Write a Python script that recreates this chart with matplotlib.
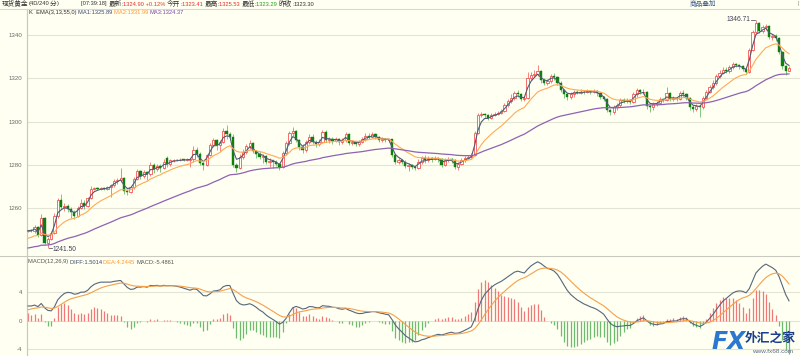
import matplotlib
matplotlib.use("Agg")
import matplotlib.pyplot as plt
import numpy as np

plt.rcParams['font.family'] = ['Noto Sans CJK SC', 'DejaVu Sans']

# ---------------- data (4-hour candles) ----------------
opens = [
    1249.2, 1249.6, 1249.3, 1251.0, 1247.5, 1255.5, 1244.0, 1245.5, 1248.5, 1256.5,
    1263.5, 1260.5, 1261.0, 1259.5, 1258.0, 1256.5, 1260.0, 1262.5, 1261.0, 1264.5,
    1269.0, 1269.2, 1268.8, 1269.3, 1268.9, 1269.5, 1270.5, 1272.5, 1273.0, 1274.0,
    1268.0, 1267.5, 1269.5, 1273.5, 1277.0, 1275.0, 1276.5, 1275.5, 1280.0, 1278.0,
    1279.5, 1278.5, 1283.0, 1280.5, 1282.0, 1282.2, 1282.1, 1282.3, 1282.2, 1282.4,
    1282.6, 1287.0, 1285.0, 1281.0, 1280.0, 1284.5, 1289.0, 1291.5, 1289.0, 1290.5,
    1295.5, 1294.0, 1293.0, 1280.0, 1278.5, 1283.5, 1286.0, 1288.5, 1290.0, 1286.5,
    1285.0, 1283.5, 1284.0, 1281.5, 1281.8, 1281.5, 1280.5, 1279.0, 1285.5, 1290.0,
    1294.5, 1295.5, 1291.5, 1288.0, 1287.0, 1290.5, 1293.0, 1290.5, 1289.5, 1290.5,
    1295.0, 1291.5, 1292.0, 1291.0, 1292.0, 1290.5, 1291.5, 1294.0, 1290.0, 1290.5,
    1289.8, 1290.5, 1292.0, 1293.5, 1293.0, 1294.0, 1293.0, 1291.5, 1292.0, 1291.5,
    1291.8, 1284.5, 1281.5, 1282.0, 1281.5, 1279.5, 1280.0, 1279.0, 1278.5, 1281.5,
    1283.0, 1282.0, 1283.0, 1282.5, 1283.0, 1282.5, 1280.0, 1282.0, 1282.5, 1282.0,
    1279.0, 1280.5, 1282.0, 1283.0, 1283.5, 1284.5, 1294.5, 1303.0, 1303.5, 1303.0,
    1301.5, 1303.0, 1303.5, 1304.0, 1305.0, 1307.5, 1309.5, 1311.0, 1313.0, 1312.5,
    1310.5, 1311.0, 1320.0, 1321.5, 1322.0, 1323.5, 1319.0, 1318.0, 1318.5, 1321.0,
    1320.5, 1318.0, 1314.5, 1312.5, 1311.5, 1312.5, 1313.5, 1313.2, 1313.8, 1313.5,
    1314.0, 1313.5, 1314.0, 1313.0, 1311.5, 1310.5, 1305.5, 1304.5, 1306.5, 1307.5,
    1310.0, 1309.5, 1310.0, 1309.0, 1312.5, 1314.5, 1313.5, 1313.8, 1307.0, 1306.5,
    1308.0, 1308.5, 1310.5, 1310.0, 1313.0, 1310.5, 1311.0, 1310.5, 1313.0, 1312.5,
    1311.0, 1306.5, 1306.0, 1307.0, 1306.5, 1311.0, 1313.5, 1316.0, 1318.0, 1321.0,
    1322.5, 1324.0, 1323.5, 1325.0, 1326.5, 1326.0, 1325.5, 1324.5, 1323.0, 1333.0,
    1341.5, 1345.5, 1342.0, 1343.5, 1344.0, 1339.0, 1339.5, 1338.5, 1332.0, 1325.5, 1323.41,
]
highs = [
    1250.0, 1250.2, 1252.0, 1251.5, 1257.0, 1256.0, 1246.5, 1249.5, 1257.5, 1264.5,
    1266.5, 1262.5, 1262.0, 1260.5, 1259.0, 1261.0, 1264.0, 1263.5, 1265.0, 1270.0,
    1269.8, 1269.7, 1269.8, 1269.9, 1270.0, 1271.0, 1273.5, 1274.0, 1278.5, 1274.5,
    1269.0, 1270.0, 1274.5, 1278.0, 1277.5, 1277.5, 1277.0, 1281.5, 1281.0, 1280.5,
    1280.5, 1282.5, 1284.0, 1282.5, 1282.7, 1282.8, 1282.9, 1282.8, 1283.0, 1283.2,
    1288.5, 1288.0, 1286.0, 1281.5, 1285.0, 1290.0, 1292.5, 1292.0, 1291.5, 1297.0,
    1298.5, 1295.0, 1294.0, 1281.0, 1285.0, 1287.5, 1289.5, 1291.5, 1290.5, 1287.0,
    1286.5, 1285.0, 1284.5, 1283.0, 1282.5, 1282.0, 1281.0, 1286.5, 1291.0, 1295.5,
    1297.5, 1296.0, 1292.0, 1289.5, 1291.5, 1294.0, 1294.0, 1291.5, 1292.0, 1296.0,
    1296.0, 1293.0, 1293.0, 1293.0, 1292.5, 1292.5, 1295.0, 1294.5, 1291.5, 1291.0,
    1291.5, 1293.0, 1294.5, 1294.5, 1295.0, 1294.5, 1293.5, 1293.0, 1292.5, 1292.5,
    1292.0, 1285.0, 1283.0, 1282.5, 1282.0, 1281.0, 1280.5, 1279.5, 1282.5, 1284.0,
    1284.5, 1284.0, 1283.5, 1284.0, 1283.5, 1283.0, 1283.0, 1283.5, 1283.0, 1282.5,
    1281.5, 1283.0, 1284.0, 1284.5, 1285.5, 1295.5, 1304.0, 1304.5, 1304.0, 1303.5,
    1304.0, 1304.5, 1305.0, 1306.0, 1308.5, 1310.5, 1312.5, 1314.0, 1314.5, 1313.0,
    1312.0, 1323.0, 1323.0, 1324.0, 1326.0, 1324.0, 1320.0, 1319.5, 1322.0, 1322.5,
    1321.0, 1318.5, 1315.0, 1313.0, 1313.5, 1314.5, 1314.5, 1314.8, 1314.5, 1315.0,
    1314.5, 1315.0, 1314.5, 1313.5, 1312.0, 1311.0, 1306.0, 1307.5, 1308.5, 1311.0,
    1311.0, 1311.0, 1310.5, 1313.5, 1315.5, 1315.0, 1315.0, 1314.0, 1307.5, 1309.0,
    1309.5, 1311.5, 1311.0, 1316.0, 1313.5, 1312.0, 1311.5, 1314.0, 1314.5, 1313.0,
    1311.5, 1307.5, 1308.0, 1307.5, 1312.0, 1314.5, 1317.0, 1319.0, 1322.0, 1324.0,
    1325.0, 1325.0, 1326.0, 1327.5, 1327.0, 1326.5, 1326.0, 1325.0, 1334.0, 1342.5,
    1346.71, 1346.0, 1344.5, 1345.0, 1344.5, 1340.5, 1340.5, 1339.0, 1332.5, 1326.0, 1325.53,
]
lows = [
    1248.8, 1248.7, 1248.5, 1246.8, 1247.0, 1243.5, 1241.5, 1245.0, 1248.0, 1255.5,
    1259.5, 1258.5, 1258.0, 1255.5, 1255.0, 1256.0, 1259.5, 1259.5, 1260.5, 1264.0,
    1268.5, 1268.4, 1268.3, 1268.4, 1268.5, 1265.0, 1269.5, 1271.0, 1272.0, 1266.5,
    1266.0, 1267.0, 1269.0, 1273.0, 1273.5, 1274.0, 1273.0, 1275.0, 1276.0, 1277.0,
    1276.5, 1278.0, 1279.0, 1279.5, 1281.5, 1281.6, 1281.7, 1281.8, 1281.8, 1279.0,
    1281.5, 1283.5, 1280.0, 1277.5, 1279.5, 1284.0, 1288.0, 1287.0, 1286.5, 1290.0,
    1292.0, 1291.5, 1279.0, 1276.8, 1278.0, 1282.5, 1285.0, 1287.5, 1285.5, 1283.0,
    1282.5, 1281.0, 1280.5, 1279.0, 1278.5, 1279.5, 1277.5, 1278.5, 1284.5, 1289.0,
    1293.5, 1290.5, 1287.0, 1285.5, 1286.0, 1289.5, 1289.5, 1288.0, 1288.5, 1290.0,
    1290.5, 1290.0, 1289.5, 1290.5, 1289.0, 1289.5, 1290.5, 1289.0, 1289.0, 1288.5,
    1288.5, 1290.0, 1291.0, 1292.0, 1292.5, 1292.0, 1290.5, 1290.5, 1290.5, 1290.5,
    1283.5, 1280.5, 1280.5, 1280.5, 1278.5, 1277.0, 1278.0, 1277.5, 1278.0, 1280.5,
    1281.0, 1281.5, 1281.5, 1282.0, 1281.5, 1279.0, 1279.5, 1281.5, 1281.0, 1278.0,
    1277.5, 1280.0, 1281.5, 1282.5, 1283.0, 1284.0, 1294.0, 1302.0, 1301.5, 1300.5,
    1301.0, 1302.5, 1303.0, 1303.5, 1304.5, 1306.5, 1308.5, 1310.0, 1311.5, 1309.5,
    1309.5, 1310.5, 1319.0, 1320.5, 1321.0, 1318.0, 1317.0, 1317.0, 1318.0, 1319.0,
    1317.0, 1313.5, 1311.0, 1310.0, 1310.5, 1311.5, 1312.5, 1312.5, 1312.5, 1313.0,
    1312.5, 1313.0, 1312.0, 1310.5, 1309.5, 1304.5, 1303.0, 1303.5, 1305.5, 1306.5,
    1308.5, 1308.5, 1308.0, 1308.5, 1311.5, 1312.5, 1312.5, 1306.0, 1304.5, 1305.5,
    1307.0, 1308.0, 1309.0, 1309.5, 1309.5, 1309.5, 1309.5, 1310.0, 1311.5, 1310.0,
    1305.5, 1304.5, 1305.0, 1302.2, 1306.0, 1310.5, 1313.0, 1315.0, 1317.0, 1320.0,
    1322.0, 1322.5, 1322.5, 1324.5, 1325.0, 1324.5, 1323.5, 1322.0, 1322.5, 1332.5,
    1340.5, 1341.0, 1341.0, 1342.5, 1338.0, 1337.5, 1337.0, 1331.0, 1324.5, 1321.5, 1323.29,
]
closes = [
    1249.6, 1249.3, 1251.2, 1247.5, 1255.5, 1244.0, 1245.5, 1248.5, 1256.5, 1263.5,
    1260.5, 1261.0, 1259.5, 1258.0, 1256.5, 1260.0, 1262.5, 1261.0, 1264.5, 1269.0,
    1269.2, 1268.8, 1269.3, 1268.9, 1269.5, 1270.5, 1272.5, 1273.0, 1274.0, 1268.0,
    1267.5, 1269.5, 1273.5, 1277.0, 1275.0, 1276.5, 1275.5, 1280.0, 1278.0, 1279.5,
    1278.5, 1281.5, 1280.5, 1282.0, 1282.2, 1282.1, 1282.3, 1282.2, 1282.4, 1282.6,
    1287.0, 1285.0, 1281.0, 1280.0, 1284.5, 1289.0, 1291.5, 1289.0, 1290.5, 1295.5,
    1294.0, 1293.0, 1280.0, 1278.5, 1283.5, 1286.0, 1288.5, 1290.0, 1286.5, 1285.0,
    1283.5, 1284.0, 1281.5, 1281.8, 1281.5, 1280.5, 1279.0, 1285.5, 1290.0, 1294.5,
    1295.5, 1291.5, 1288.0, 1287.0, 1290.5, 1293.0, 1290.5, 1289.5, 1290.5, 1295.0,
    1291.5, 1292.0, 1291.0, 1292.0, 1290.5, 1291.5, 1294.0, 1290.0, 1290.5, 1289.8,
    1290.5, 1292.0, 1293.5, 1293.0, 1294.0, 1293.0, 1291.5, 1292.0, 1291.5, 1291.8,
    1284.5, 1281.5, 1282.0, 1281.5, 1279.5, 1280.0, 1279.0, 1278.5, 1281.5, 1283.0,
    1282.0, 1283.0, 1282.5, 1283.0, 1282.5, 1280.0, 1282.0, 1282.5, 1282.0, 1279.0,
    1280.5, 1282.0, 1283.0, 1283.5, 1284.5, 1294.5, 1303.0, 1303.5, 1303.0, 1301.5,
    1303.0, 1303.5, 1304.0, 1305.0, 1307.5, 1309.5, 1311.0, 1313.0, 1312.5, 1310.5,
    1311.0, 1320.0, 1321.5, 1322.0, 1323.5, 1319.0, 1318.0, 1318.5, 1321.0, 1320.5,
    1318.0, 1314.5, 1312.5, 1311.5, 1312.5, 1313.5, 1313.2, 1313.8, 1313.5, 1314.0,
    1313.5, 1314.0, 1313.0, 1311.5, 1310.5, 1305.5, 1304.5, 1306.5, 1307.5, 1310.0,
    1309.5, 1310.0, 1309.0, 1312.5, 1314.5, 1313.5, 1313.8, 1307.0, 1306.5, 1308.0,
    1308.5, 1310.5, 1310.0, 1313.0, 1310.5, 1311.0, 1310.5, 1313.0, 1312.5, 1311.0,
    1306.5, 1306.0, 1307.0, 1306.5, 1311.0, 1313.5, 1316.0, 1318.0, 1321.0, 1322.5,
    1324.0, 1323.5, 1325.0, 1326.5, 1326.0, 1325.5, 1324.5, 1323.0, 1333.0, 1341.5,
    1345.5, 1342.0, 1343.5, 1344.0, 1339.0, 1339.5, 1338.5, 1332.0, 1325.5, 1323.3, 1324.9,
]

# indicator settings and starting states carried over from earlier history
ema_periods = [3, 13, 55]
ema_start = [1249.5, 1245.4, 1241.2]
macd_periods = (12, 26, 9)
macd_start = (1247.0, 1245.0, 1.4)   # EMA12, EMA26, DEA before first candle

price_ticks = [1260, 1280, 1300, 1320, 1340]
macd_ticks = [-4, 0, 4]
low_label = "1241.50"
high_label = "1346.71"

# ---------------- helpers ----------------
def ema(values, n, start):
    a = 2.0 / (n + 1)
    out, e = [], start
    for v in values:
        e = a * v + (1 - a) * e
        out.append(e)
    return np.array(out)

o = np.array(opens); h = np.array(highs); l = np.array(lows); c = np.array(closes)
n = len(c)
idx = np.arange(n)

emas = [ema(c, p, s) for p, s in zip(ema_periods, ema_start)]
e12 = ema(c, macd_periods[0], macd_start[0])
e26 = ema(c, macd_periods[1], macd_start[1])
diff = e12 - e26
dea = ema(diff, macd_periods[2], macd_start[2])
hist = 2 * (diff - dea)

# ---------------- figure ----------------
W, H = 800, 356
BG = '#fffff2'
fig = plt.figure(figsize=(W / 100, H / 100), dpi=100, facecolor=BG)

def fx(x): return x / W
def fy(y): return 1 - y / H

ax_left_px, ax_right_px = 27, 800
first_px, last_px = 28, 789
ppc = (last_px - first_px) / (n - 1)
xlim = (-(first_px - ax_left_px) / ppc, (ax_right_px - first_px) / ppc)

LAT = 'Liberation Sans'
CJK = 'Noto Sans CJK SC'
LFS = 4.15  # latin font size
CFS = 4.8   # cjk font size

# main panel: y 9..255 px
main_top, main_bot = 9, 255
ax = fig.add_axes([fx(ax_left_px), fy(main_bot), fx(ax_right_px - ax_left_px),
                   (main_bot - main_top) / H], facecolor=BG)
pp = (208 - 35) / 80.0   # px per price unit
ax.set_ylim(1340 - (main_bot - 35) / pp, 1340 + (35 - main_top) / pp)
ax.set_xlim(*xlim)

# macd panel: y 256..356
mac_top, mac_bot = 256, 356
ax2 = fig.add_axes([fx(ax_left_px), fy(mac_bot), fx(ax_right_px - ax_left_px),
                    (mac_bot - mac_top) / H], facecolor=BG)
mp = 7.15
ax2.set_ylim(-(mac_bot - 320.7) / mp, (320.7 - mac_top) / mp)
ax2.set_xlim(*xlim)

for a_ in (ax, ax2):
    for s in ['top', 'right', 'bottom']:
        a_.spines[s].set_visible(False)
    a_.spines['left'].set_color('#c9c9c0')
    a_.spines['left'].set_linewidth(0.9)
    a_.set_xticks([])
    a_.tick_params(axis='y', length=0, pad=3.2, labelsize=4.4, labelcolor='#6a6a6a')

ax.set_yticks(price_ticks)
ax.set_yticklabels([str(t) for t in price_ticks], family=LAT)
for t in price_ticks:
    ax.axhline(t, color='#e4e4d4', lw=0.8, zorder=0)
ax2.set_yticks(macd_ticks)
ax2.set_yticklabels([str(t) for t in macd_ticks], family=LAT)
for t in macd_ticks:
    ax2.axhline(t, color='#e4e4d4', lw=0.8, zorder=0)

# candles
up = c >= o
RED_E = '#f04848'
RED_W = '#f07070'
GRN_F = '#0e7f0e'
GRN_W = '#6cc06c'
bw = 0.68
ax.vlines(idx[up], l[up], h[up], color=RED_W, lw=0.6, zorder=2)
ax.vlines(idx[~up], l[~up], h[~up], color=GRN_W, lw=0.6, zorder=2)
body_lo = np.minimum(o, c)
body_h = np.maximum(np.abs(c - o), 0.25)
ax.bar(idx[up], body_h[up], bottom=body_lo[up], width=bw, facecolor=BG,
       edgecolor=RED_E, linewidth=0.55, zorder=3)
ax.bar(idx[~up], body_h[~up], bottom=body_lo[~up], width=bw, facecolor=GRN_F,
       edgecolor=GRN_F, linewidth=0.3, zorder=3)

# EMA lines
ema_colors = ['#4f5b78', '#ffaa55', '#8e62b4']
ema_lw = [0.8, 0.8, 0.9]
for e, col, lw in zip(emas, ema_colors, ema_lw):
    ax.plot(idx, e, color=col, lw=lw, zorder=4)

# extreme labels
i_lo = int(np.argmin(l)); i_hi = int(np.argmax(h))
ax.plot([i_lo + 0.2, i_lo + 1.2], [l[i_lo], l[i_lo]], color='#606070', lw=0.6)
ax.text(i_lo + 1.3, l[i_lo] - 0.5, low_label, fontsize=4.8, color='#40405a',
        va='center', ha='left', family=LAT)
ax.plot([i_hi - 1.5, i_hi - 0.3], [h[i_hi], h[i_hi]], color='#606070', lw=0.6)
ax.text(i_hi - 1.7, h[i_hi] + 0.3, high_label, fontsize=4.8, color='#40405a',
        va='center', ha='right', family=LAT)

# MACD
ax2.vlines(idx[hist >= 0], 0, hist[hist >= 0], color='#f07878', lw=0.9, zorder=2)
ax2.vlines(idx[hist < 0], 0, hist[hist < 0], color='#6dbb6d', lw=0.9, zorder=2)
ax2.plot(idx, diff, color='#56667c', lw=0.8, zorder=3)
ax2.plot(idx, dea, color='#f5a04a', lw=0.8, zorder=3)

# ---------------- header texts (flowing segments) ----------------
renderer = fig.canvas.get_renderer()

def flow(x, y, segs, gap=0.0):
    """segs: list of (text, color, is_cjk); placed left to right from pixel x"""
    for s, col, cj in segs:
        tt = fig.text(fx(x), fy(y), s, color=col, va='center', ha='left',
                      fontsize=CFS if cj else LFS, family=CJK if cj else LAT)
        bb = tt.get_window_extent(renderer=renderer)
        x += bb.width + gap
    return x

fig.add_artist(plt.Line2D([0, 1], [fy(8.5), fy(8.5)], color='#d8d8cc', lw=0.8))
fig.add_artist(plt.Line2D([0, 1], [fy(255.5), fy(255.5)], color='#c9c9c0', lw=0.8))

DK = '#333333'; RD = '#e03030'; GR = '#1f9f1f'
flow(2, 4, [('现货黄金', DK, True), ('(4D/240', DK, False), ('分', DK, True), (')', DK, False)])
flow(81, 4, [('[07:39:18] ', DK, False), ('最新', DK, True), (':', DK, False),
             ('1324.90 +0.12% ', RD, False), ('今开', DK, True), (':', DK, False),
             ('1323.41 ', RD, False), ('最高', DK, True), (':', DK, False),
             ('1325.53 ', RD, False), ('最低', DK, True), (':', DK, False),
             ('1323.29 ', GR, False), ('昨收', DK, True), (':', DK, False),
             ('1323.30', DK, False)])
flow(690, 4, [('商品叠加', '#3a5a8a', True)])
flow(797, 4, [('|', '#888888', False)])

flow(29, 12.5, [('K  EMA(3,13,55,0) ', DK, False), ('MA1:1325.89 ', '#3a4a78', False),
                ('MA2:1331.99 ', '#ff9a30', False), ('MA3:1324.37', '#7a4aa8', False)])

flow(28, 262, [('MACD(12,26,9) ', '#555555', False), ('DIFF:1.5014 ', '#3a4a68', False),
               ('DEA:4.2445 ', '#ff9a30', False), ('MACD:-5.4861', '#555555', False)])

# watermark
fig.text(fx(711), fy(342), 'FX', color='#2a78d0', fontsize=17, fontweight='bold',
         style='italic', va='center', ha='left', family='DejaVu Sans')
fig.text(fx(745), fy(338), '外汇之家', color='#1a3f8f', fontsize=9.2, fontweight='bold',
         va='center', ha='left', family=CJK)
fig.text(fx(752), fy(351.5), 'www.fx68.com', color='#5a6a8a', fontsize=4.6,
         va='center', ha='left', family=LAT)

fig.savefig('out.png', dpi=100, facecolor=BG)
